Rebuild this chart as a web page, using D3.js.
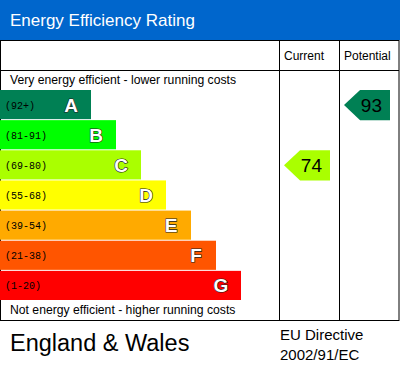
<!DOCTYPE html>
<html><head><meta charset="utf-8">
<script src="https://cdn.jsdelivr.net/npm/d3@7"></script>
<style>body{margin:0;background:#fff}svg{display:block}</style>
</head><body><div id="c"></div>
<script>
const letters = ["A","B","C","D","E","F","G"];
const ranges = ["(92+)","(81-91)","(69-80)","(55-68)","(39-54)","(21-38)","(1-20)"];
const colors = ["#008054","#00ff00","#aaff00","#ffff00","#ffaa00","#ff5500","#ff0000"];
const lows = [92,81,69,55,39,21,1];
const currentValue = 74;
const potentialValue = 93;

const W = 400, H = 370;
const svg = d3.select("#c").append("svg").attr("width", W).attr("height", H);
const font = "Liberation Sans, Arial, sans-serif";

const y = d3.scaleBand().domain(letters).range([90, 300]).paddingInner(1/30).paddingOuter(0);
const wScale = d3.scaleLinear().domain([0, 6]).range([91, 241]);
const bandOf = v => letters[lows.findIndex(l => v >= l)];

// header
svg.append("rect").attr("x",0).attr("y",0).attr("width",W).attr("height",40).attr("fill","#0066cc");
svg.append("text").attr("x",10).attr("y",26).attr("fill","#fff").attr("font-family",font).attr("font-size",17).text("Energy Efficiency Rating");

// table lines
const g = svg.append("g").attr("stroke","#000").attr("stroke-width",1).attr("fill","none");
g.append("rect").attr("x",0.5).attr("y",40.5).attr("width",398.5).attr("height",280);
g.append("line").attr("x1",0).attr("x2",399).attr("y1",70.5).attr("y2",70.5);
g.append("line").attr("x1",279.5).attr("x2",279.5).attr("y1",40).attr("y2",320);
g.append("line").attr("x1",339.5).attr("x2",339.5).attr("y1",40).attr("y2",320);

svg.append("text").attr("x",284).attr("y",60).attr("font-family",font).attr("font-size",12).text("Current");
svg.append("text").attr("x",344).attr("y",60).attr("font-family",font).attr("font-size",12).text("Potential");

svg.append("text").attr("x",10).attr("y",84).attr("font-family",font).attr("font-size",12.2).text("Very energy efficient - lower running costs");
svg.append("text").attr("x",10).attr("y",314).attr("font-family",font).attr("font-size",12.2).text("Not energy efficient - higher running costs");

// bars
const bars = svg.append("g").selectAll("g").data(letters).join("g");
bars.append("rect").attr("x",0).attr("y",d=>y(d)).attr("width",(d,i)=>wScale(i)).attr("height",y.bandwidth()).attr("fill",(d,i)=>colors[i]);
bars.append("text").attr("x",5).attr("y",d=>y(d)+y.bandwidth()/2+4).attr("font-family","Liberation Mono, monospace").attr("font-size",10).attr("fill","#000").text((d,i)=>ranges[i]);
bars.append("text").attr("x",(d,i)=>wScale(i)-20).attr("y",d=>y(d)+y.bandwidth()/2+7).attr("text-anchor","middle")
  .attr("font-family",font).attr("font-weight","bold").attr("font-size",19).attr("fill","#fff").attr("stroke","#222").attr("stroke-width",1.2).attr("paint-order","stroke").text(d=>d);

// arrows
function arrow(value, x0, x1) {
  const b = bandOf(value), i = letters.indexOf(b);
  const top = y(b), h = y.bandwidth() + 1, mid = top + h/2;
  const pts = [[x0, mid],[x0+h/2+1, top],[x1, top],[x1, top+h],[x0+h/2+1, top+h]];
  svg.append("path").attr("d", d3.line()(pts) + "Z").attr("fill", colors[i]);
  svg.append("text").attr("x", x1-8).attr("y", mid+7).attr("text-anchor","end").attr("font-family",font).attr("font-size",19).attr("fill","#000").text(value);
}
arrow(currentValue, 284, 330);
arrow(potentialValue, 344, 390);

// footer
svg.append("text").attr("x",10).attr("y",351).attr("font-family",font).attr("font-size",23.5).text("England & Wales");
svg.append("text").attr("x",280).attr("y",340).attr("font-family",font).attr("font-size",15).text("EU Directive");
svg.append("text").attr("x",280).attr("y",360).attr("font-family",font).attr("font-size",15).text("2002/91/EC");
</script></body></html>
